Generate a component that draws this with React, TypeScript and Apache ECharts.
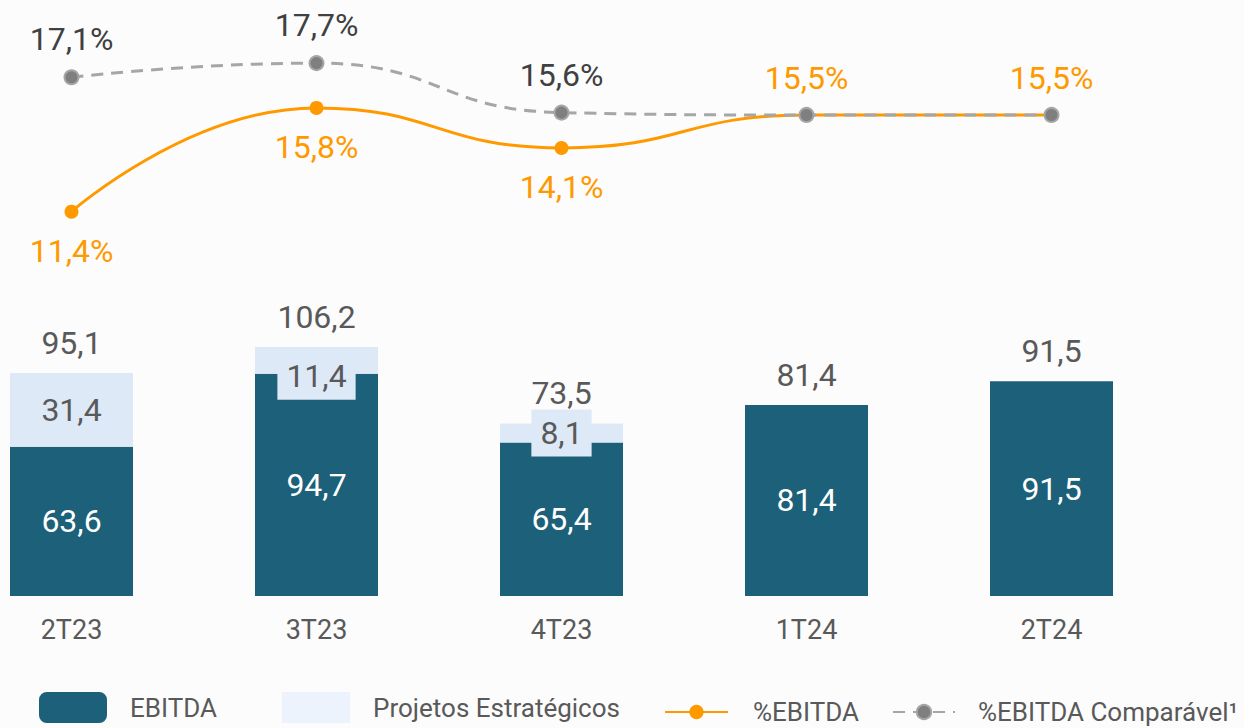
import React, { useEffect, useRef } from "react";
import * as echarts from "echarts";

const categories = ["2T23", "3T23", "4T23", "1T24", "2T24"];
const ebitda = [63.6, 94.7, 65.4, 81.4, 91.5];
const projetos = [31.4, 11.4, 8.1, 0, 0];
const totals = [95.1, 106.2, 73.5, 81.4, 91.5];
const pctEbitda = [11.4, 15.8, 14.1, 15.5, 15.5];
const pctComparavel = [17.1, 17.7, 15.6, 15.5, 15.5];

const DARK = "#1c6079";
const LIGHT = "#dde9f6";
const ORANGE = "#ff9900";
const GRAY_LINE = "#a6a6a6";
const GRAY_DOT = "#7f7f7f";
const TEXT = "#595959";
const FONT = "Roboto";
const VAL = 32;

const fmt = (v: number) => v.toFixed(1).replace(".", ",");

export default function App() {
  const ref = useRef<HTMLDivElement>(null);
  useEffect(() => {
    if (!ref.current) return;
    const chart = echarts.init(ref.current, undefined, { renderer: "svg" });
    const legendText = { color: TEXT, fontSize: 26, fontFamily: FONT, padding: [6, 0, 0, 18] };
    chart.setOption({
      animation: false,
      backgroundColor: "#fcfcfc",
      textStyle: { fontFamily: FONT },
      grid: { left: 71.5, right: 192.5, top: 56, bottom: 132, containLabel: false },
      legend: [
        {
          data: [{ name: "EBITDA", icon: "roundRect" }],
          left: 39, top: 692, padding: 0, itemWidth: 68, itemHeight: 31,
          textStyle: legendText, selectedMode: false,
        },
        {
          data: [{ name: "Projetos Estratégicos", icon: "rect", itemStyle: { color: "#edf3fd" } }],
          left: 282, top: 692, padding: 0, itemWidth: 68, itemHeight: 31,
          textStyle: legendText, selectedMode: false,
        },
        {
          data: ["%EBITDA"],
          left: 664, top: 699, padding: 0, itemWidth: 63, itemHeight: 18,
          textStyle: { ...legendText, padding: [4, 0, 0, 20] }, selectedMode: false,
        },
        {
          data: ["%EBITDA Comparável¹"],
          left: 892, top: 699, padding: 0, itemWidth: 62, itemHeight: 18,
          textStyle: { ...legendText, padding: [4, 0, 0, 18] }, selectedMode: false,
        },
      ],
      xAxis: {
        type: "category",
        data: categories,
        boundaryGap: false,
        axisLine: { show: false },
        axisTick: { show: false },
        splitLine: { show: false },
        axisLabel: { color: TEXT, fontSize: 27, fontFamily: FONT, margin: 20 },
      },
      yAxis: [
        { type: "value", min: 0, max: 230, show: false, splitLine: { show: false } },
        { type: "value", min: -4.9, max: 18.0, show: false, splitLine: { show: false } },
      ],
      series: [
        {
          name: "EBITDA",
          type: "bar",
          stack: "a",
          barWidth: 123,
          clip: false,
          itemStyle: { color: DARK },
          label: {
            show: true, position: "inside", color: "#ffffff", fontSize: VAL, fontFamily: FONT,
            formatter: (p: any) => fmt(p.value),
          },
          data: ebitda,
        },
        {
          name: "Projetos Estratégicos",
          type: "bar",
          stack: "a",
          barWidth: 123,
          clip: false,
          itemStyle: { color: LIGHT },
          label: {
            show: true, position: "inside", color: TEXT, fontSize: VAL, fontFamily: FONT,
            backgroundColor: LIGHT, padding: [8, 9, 7, 9],
            formatter: (p: any) => fmt(p.value),
          },
          data: projetos.map((v, i) => ({
            value: v,
            label: v === 0 ? { show: false } : i === 1 ? { offset: [0, 16] } : {},
          })),
        },
        {
          name: "Total",
          type: "scatter",
          symbolSize: 0,
          clip: false,
          itemStyle: { color: TEXT, opacity: 1 },
          label: {
            show: true, position: "top", distance: 14, color: TEXT, fontSize: VAL, fontFamily: FONT,
            formatter: (p: any) => fmt(p.value),
          },
          data: totals,
          z: 5,
        },
        {
          name: "%EBITDA",
          type: "line",
          yAxisIndex: 1,
          smooth: 0.5,
          clip: false,
          symbol: "circle",
          symbolSize: 14,
          lineStyle: { color: ORANGE, width: 3 },
          itemStyle: { color: ORANGE },
          label: {
            show: true, color: ORANGE, fontSize: VAL, fontFamily: FONT,
            formatter: (p: any) => fmt(p.value) + "%",
          },
          data: pctEbitda.map((v, i) => ({
            value: v,
            label: i < 3 ? { position: "bottom", distance: 16 } : { position: "top", distance: 14 },
          })),
          z: 10,
        },
        {
          name: "%EBITDA Comparável¹",
          type: "line",
          yAxisIndex: 1,
          smooth: 0.5,
          clip: false,
          symbol: "circle",
          symbolSize: 14,
          lineStyle: { color: GRAY_LINE, width: 3, type: [12, 8] },
          itemStyle: { color: GRAY_DOT, borderColor: GRAY_LINE, borderWidth: 2 },
          label: {
            show: true, color: "#404040", fontSize: VAL, fontFamily: FONT,
            formatter: (p: any) => fmt(p.value) + "%",
          },
          data: pctComparavel.map((v, i) => ({
            value: v,
            label: i < 3 ? { position: "top", distance: 14 } : { show: false },
          })),
          z: 11,
        },
      ],
    });
    return () => chart.dispose();
  }, []);
  return (
    <div
      ref={ref}
      style={{ position: "fixed", left: 0, top: 0, width: 1244, height: 728 }}
    />
  );
}
